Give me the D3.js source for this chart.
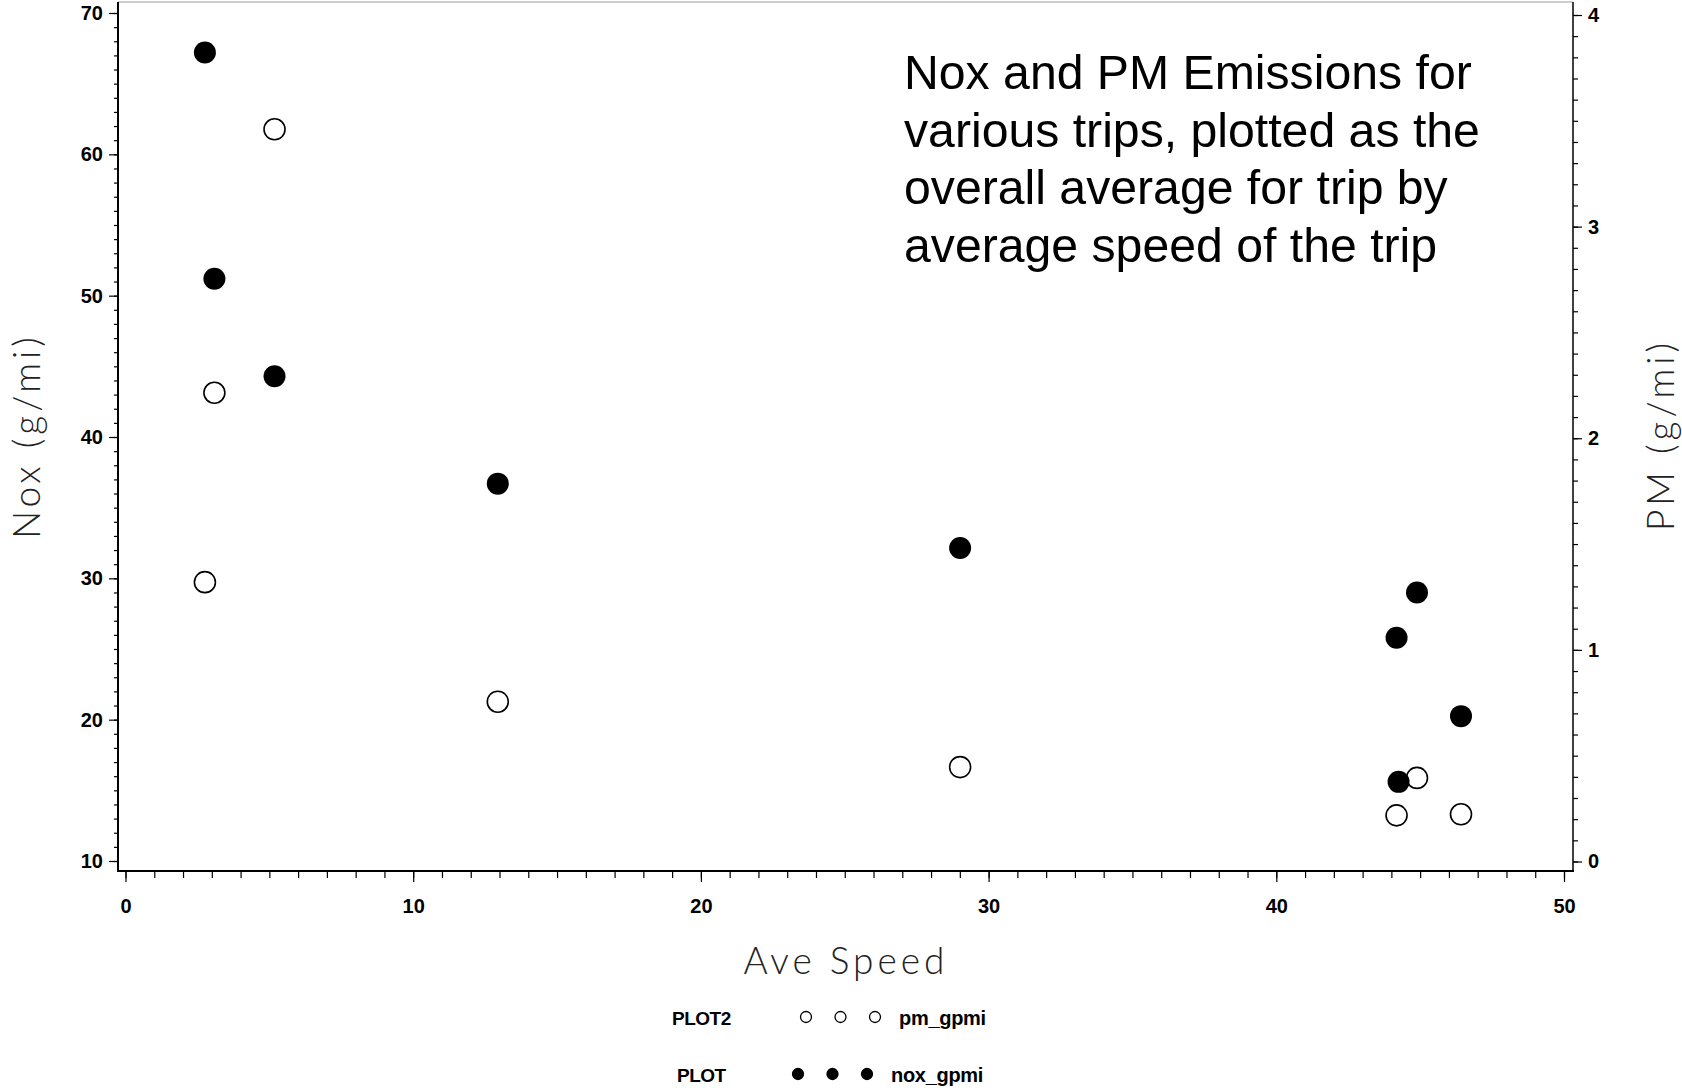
<!DOCTYPE html>
<html>
<head>
<meta charset="utf-8">
<script src="https://cdn.jsdelivr.net/npm/d3@7"></script>
<style>
  html, body { margin: 0; padding: 0; background: #fff; }
  svg { display: block; }
</style>
</head>
<body>
<svg id="chart" width="1682" height="1090"></svg>
<script>
// ---- data ----
const speedNox = [2.76, 3.09, 5.18, 12.94, 29.01, 44.89, 44.18, 46.42, 44.25];
const noxValues = [67.2, 51.2, 44.3, 36.7, 32.15, 29.0, 25.8, 20.25, 15.6];
const speedPm = [5.18, 3.09, 2.76, 12.94, 29.01, 44.89, 44.18, 46.42];
const pmValues = [3.46, 2.215, 1.32, 0.755, 0.446, 0.395, 0.218, 0.223];
const xTicks = [0, 10, 20, 30, 40, 50];
const noxTicks = [10, 20, 30, 40, 50, 60, 70];
const pmTicks = [0, 1, 2, 3, 4];
const titleLines = [
  "Nox and PM Emissions for",
  "various trips, plotted as the",
  "overall average for trip by",
  "average speed of the trip"
];
const legendItems = [
  {group: "PLOT2", name: "pm_gpmi", filled: false},
  {group: "PLOT", name: "nox_gpmi", filled: true}
];

// ---- layout ----
const svg = d3.select("#chart");
const frame = {left: 118, right: 1573, top: 2, bottom: 871};

const x = d3.scaleLinear().domain([0, 50]).range([125.5, 1564]);
const yL = d3.scaleLinear().domain([10, 70]).range([861, 13]);
const yR = d3.scaleLinear().domain([0, 4]).range([861.5, 15]);

const tickFont = "'Liberation Sans', Arial, sans-serif";
const thinFont = "Lato, 'Open Sans', sans-serif";

// frame: top line light
svg.append("line").attr("x1", frame.left).attr("x2", frame.right)
  .attr("y1", frame.top).attr("y2", frame.top)
  .attr("stroke", "#999").attr("stroke-width", 1);

// ---- axes ----
function styleAxis(g) {
  g.select(".domain").remove();
  g.selectAll("line").attr("stroke", "#000").attr("stroke-width", 1.2);
  g.selectAll("text").attr("font-family", tickFont).attr("font-weight", "bold")
    .attr("font-size", 20).attr("fill", "#000");
}

// bottom axis
const gx = svg.append("g").attr("transform", `translate(0,${frame.bottom})`);
gx.append("g").call(d3.axisBottom(x).tickValues(d3.range(0, 51, 1)).tickSize(7).tickFormat(""))
  .call(styleAxis);
gx.append("g").call(d3.axisBottom(x).tickValues(xTicks).tickSize(11).tickPadding(17).tickFormat(d3.format("d")))
  .call(styleAxis);

// left axis
const gl = svg.append("g").attr("transform", `translate(${frame.left},0)`);
gl.append("g").call(d3.axisLeft(yL).tickValues(d3.range(10, 71, 1)).tickSize(4).tickFormat(""))
  .call(styleAxis);
gl.append("g").call(d3.axisLeft(yL).tickValues(noxTicks).tickSize(9).tickPadding(6).tickFormat(d3.format("d")))
  .call(styleAxis);

// right axis
const gr = svg.append("g").attr("transform", `translate(${frame.right},0)`);
gr.append("g").call(d3.axisRight(yR).tickValues(d3.range(0, 40.5, 1).map(d => d / 10)).tickSize(5).tickFormat(""))
  .call(styleAxis);
gr.append("g").call(d3.axisRight(yR).tickValues(pmTicks).tickSize(9).tickPadding(6).tickFormat(d3.format("d")))
  .call(styleAxis);

// axis lines
svg.append("line").attr("x1", frame.left).attr("x2", frame.left)
  .attr("y1", frame.top).attr("y2", frame.bottom).attr("stroke", "#000").attr("stroke-width", 2);
svg.append("line").attr("x1", frame.left - 1).attr("x2", frame.right + 1)
  .attr("y1", frame.bottom).attr("y2", frame.bottom).attr("stroke", "#000").attr("stroke-width", 2);
svg.append("line").attr("x1", frame.right).attr("x2", frame.right)
  .attr("y1", frame.top).attr("y2", frame.bottom).attr("stroke", "#000").attr("stroke-width", 1.5);

// axis titles
function axisTitle(sel) {
  sel.attr("text-anchor", "middle").attr("font-family", thinFont).attr("font-weight", 300)
    .attr("font-size", 37).attr("letter-spacing", 4).attr("fill", "#222");
}
svg.append("text").attr("transform", "translate(40,436) rotate(-90)")
  .call(axisTitle).text("Nox (g/mi)");
svg.append("text").attr("transform", "translate(1674,435) rotate(-90)")
  .call(axisTitle).text("PM (g/mi)");
svg.append("text").attr("x", 846).attr("y", 974)
  .call(axisTitle).text("Ave Speed");

// ---- points ----
const pmPts = speedPm.map((s, i) => ({s, v: pmValues[i]}));
const noxPts = speedNox.map((s, i) => ({s, v: noxValues[i]}));

svg.append("g").selectAll("circle").data(pmPts).join("circle")
  .attr("cx", d => x(d.s)).attr("cy", d => yR(d.v)).attr("r", 10.5)
  .attr("fill", "#fff").attr("stroke", "#000").attr("stroke-width", 1.6);

svg.append("g").selectAll("circle").data(noxPts).join("circle")
  .attr("cx", d => x(d.s)).attr("cy", d => yL(d.v)).attr("r", 11)
  .attr("fill", "#000");

// ---- title annotation ----
svg.append("g").selectAll("text").data(titleLines).join("text")
  .attr("x", 904).attr("y", (d, i) => 89 + i * 57.5)
  .attr("font-family", tickFont).attr("font-size", 48.2).attr("fill", "#000")
  .text(d => d);

// ---- legend ----
const legend = svg.append("g");
legendItems.forEach((item, i) => {
  const cy = 1018 + i * 57;
  legend.append("text").attr("x", item.filled ? 677 : 672).attr("y", cy + 7)
    .attr("font-family", tickFont).attr("font-weight", "bold").attr("font-size", 19)
    .attr("letter-spacing", -0.5).attr("fill", "#000").text(item.group);
  const x0 = item.filled ? 798 : 806;
  [0, 1, 2].forEach(k => {
    legend.append("circle").attr("cx", x0 + k * 34.5).attr("cy", cy - 1).attr("r", 5.5)
      .attr("fill", item.filled ? "#000" : "#fff").attr("stroke", "#000").attr("stroke-width", 1.3);
  });
  legend.append("text").attr("x", item.filled ? 891 : 899).attr("y", cy + 7)
    .attr("font-family", tickFont).attr("font-weight", "bold").attr("font-size", 20)
    .attr("letter-spacing", -0.3).attr("fill", "#000").text(item.name);
});
</script>
</body>
</html>
